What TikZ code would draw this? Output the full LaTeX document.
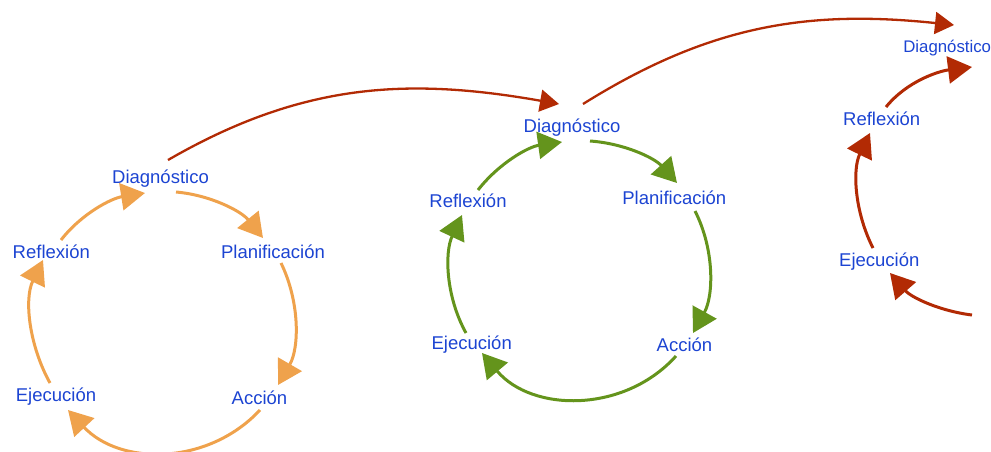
\documentclass[tikz,border=0pt]{standalone}
\usepackage{fontspec}
\setmainfont{Liberation Sans}
\usetikzlibrary{arrows.meta}
\definecolor{cycorange}{RGB}{239,162,76}
\definecolor{cycgreen}{RGB}{100,148,28}
\definecolor{cycred}{RGB}{178,42,4}
\definecolor{lblblue}{RGB}{28,68,210}

\begin{document}
\begin{tikzpicture}[x=1pt,y=1pt,
  lbl/.style={text=lblblue,font=\fontsize{18.5}{22}\selectfont,inner sep=0pt,anchor=base},
  cyc/.style={line width=3pt,looseness=0.9,-{Triangle[length=24pt,width=27pt]}},
  jump/.style={cycred,line width=2.3pt,-{Triangle[length=19pt,width=22pt]}}]

\useasboundingbox (0,0) rectangle (991,-451);

% first cycle
\node[lbl] (d1) at (160.5,-183) {Diagnóstico};
\node[lbl] (p1) at (273,-258) {Planificación};
\node[lbl] (a1) at (259.5,-404) {Acción};
\node[lbl] (e1) at (56,-401.5) {Ejecución};
\node[lbl] (r1) at (51.3,-258) {Reflexión};

\begin{scope}[cycorange]
\draw[cyc] ([shift={(15.5,-9)}]d1.base) to[out=-5,in=129] ([shift={(-10,20)}]p1.base);
\draw[cyc] ([shift={(8,-5)}]p1.base) to[out=-64,in=60] ([shift={(18.5,19)}]a1.base);
\draw[cyc,looseness=1.02] ([shift={(0.5,-6)}]a1.base) to[out=-133,in=-47] ([shift={(12,-8.5)}]e1.base);
\draw[cyc] ([shift={(-6,18.5)}]e1.base) to[out=119,in=-116] ([shift={(-8.3,-2)}]r1.base);
\draw[cyc] ([shift={(9.7,18)}]r1.base) to[out=52,in=-171] ([shift={(-15.5,-10)}]d1.base);
\end{scope}

% second cycle
\node[lbl] (d2) at (572,-132) {Diagnóstico};
\node[lbl] (p2) at (674.3,-204) {Planificación};
\node[lbl] (a2) at (684.5,-351) {Acción};
\node[lbl] (e2) at (471.7,-349) {Ejecución};
\node[lbl] (r2) at (468,-207) {Reflexión};

\begin{scope}[cycgreen]
\draw[cyc] ([shift={(18,-9)}]d2.base) to[out=-4,in=132] ([shift={(2.7,21)}]p2.base);
\draw[cyc] ([shift={(20.7,-7)}]p2.base) to[out=-63,in=61] ([shift={(8.5,18)}]a2.base);
\draw[cyc,looseness=1.02] ([shift={(-8.5,-5)}]a2.base) to[out=-132,in=-50] ([shift={(10.3,-4)}]e2.base);
\draw[cyc] ([shift={(-5.7,16)}]e2.base) to[out=119,in=-115] ([shift={(-6,-8)}]r2.base);
\draw[cyc] ([shift={(10,17)}]r2.base) to[out=52,in=-172] ([shift={(-10,-10)}]d2.base);
\end{scope}

% third cycle
\node[lbl,font=\fontsize{16.8}{20}\selectfont] (d3) at (947.2,-52.7) {Diagnóstico};
\node[lbl] (r3) at (881.7,-125) {Reflexión};
\node[lbl] (e3) at (879.3,-266) {Ejecución};
\coordinate (x3) at (972,-315);

\begin{scope}[cycred]
\draw[cyc] (x3) to[out=173,in=-49] ([shift={(10.7,-7)}]e3.base);
\draw[cyc] ([shift={(-6.3,18)}]e3.base) to[out=117,in=-116] ([shift={(-11.7,-8)}]r3.base);
\draw[cyc] ([shift={(4.3,18)}]r3.base) to[out=51,in=-173] ([shift={(24.8,-14.3)}]d3.base);
\end{scope}

% from one cycle to the next
\draw[jump] ([shift={(7.5,23)}]d1.base) to[out=30,in=170] ([shift={(-13,28)}]d2.base);
\draw[jump] ([shift={(11,28)}]d2.base) to[out=32,in=174] ([shift={(6.8,27.7)}]d3.base);

\end{tikzpicture}
\end{document}
